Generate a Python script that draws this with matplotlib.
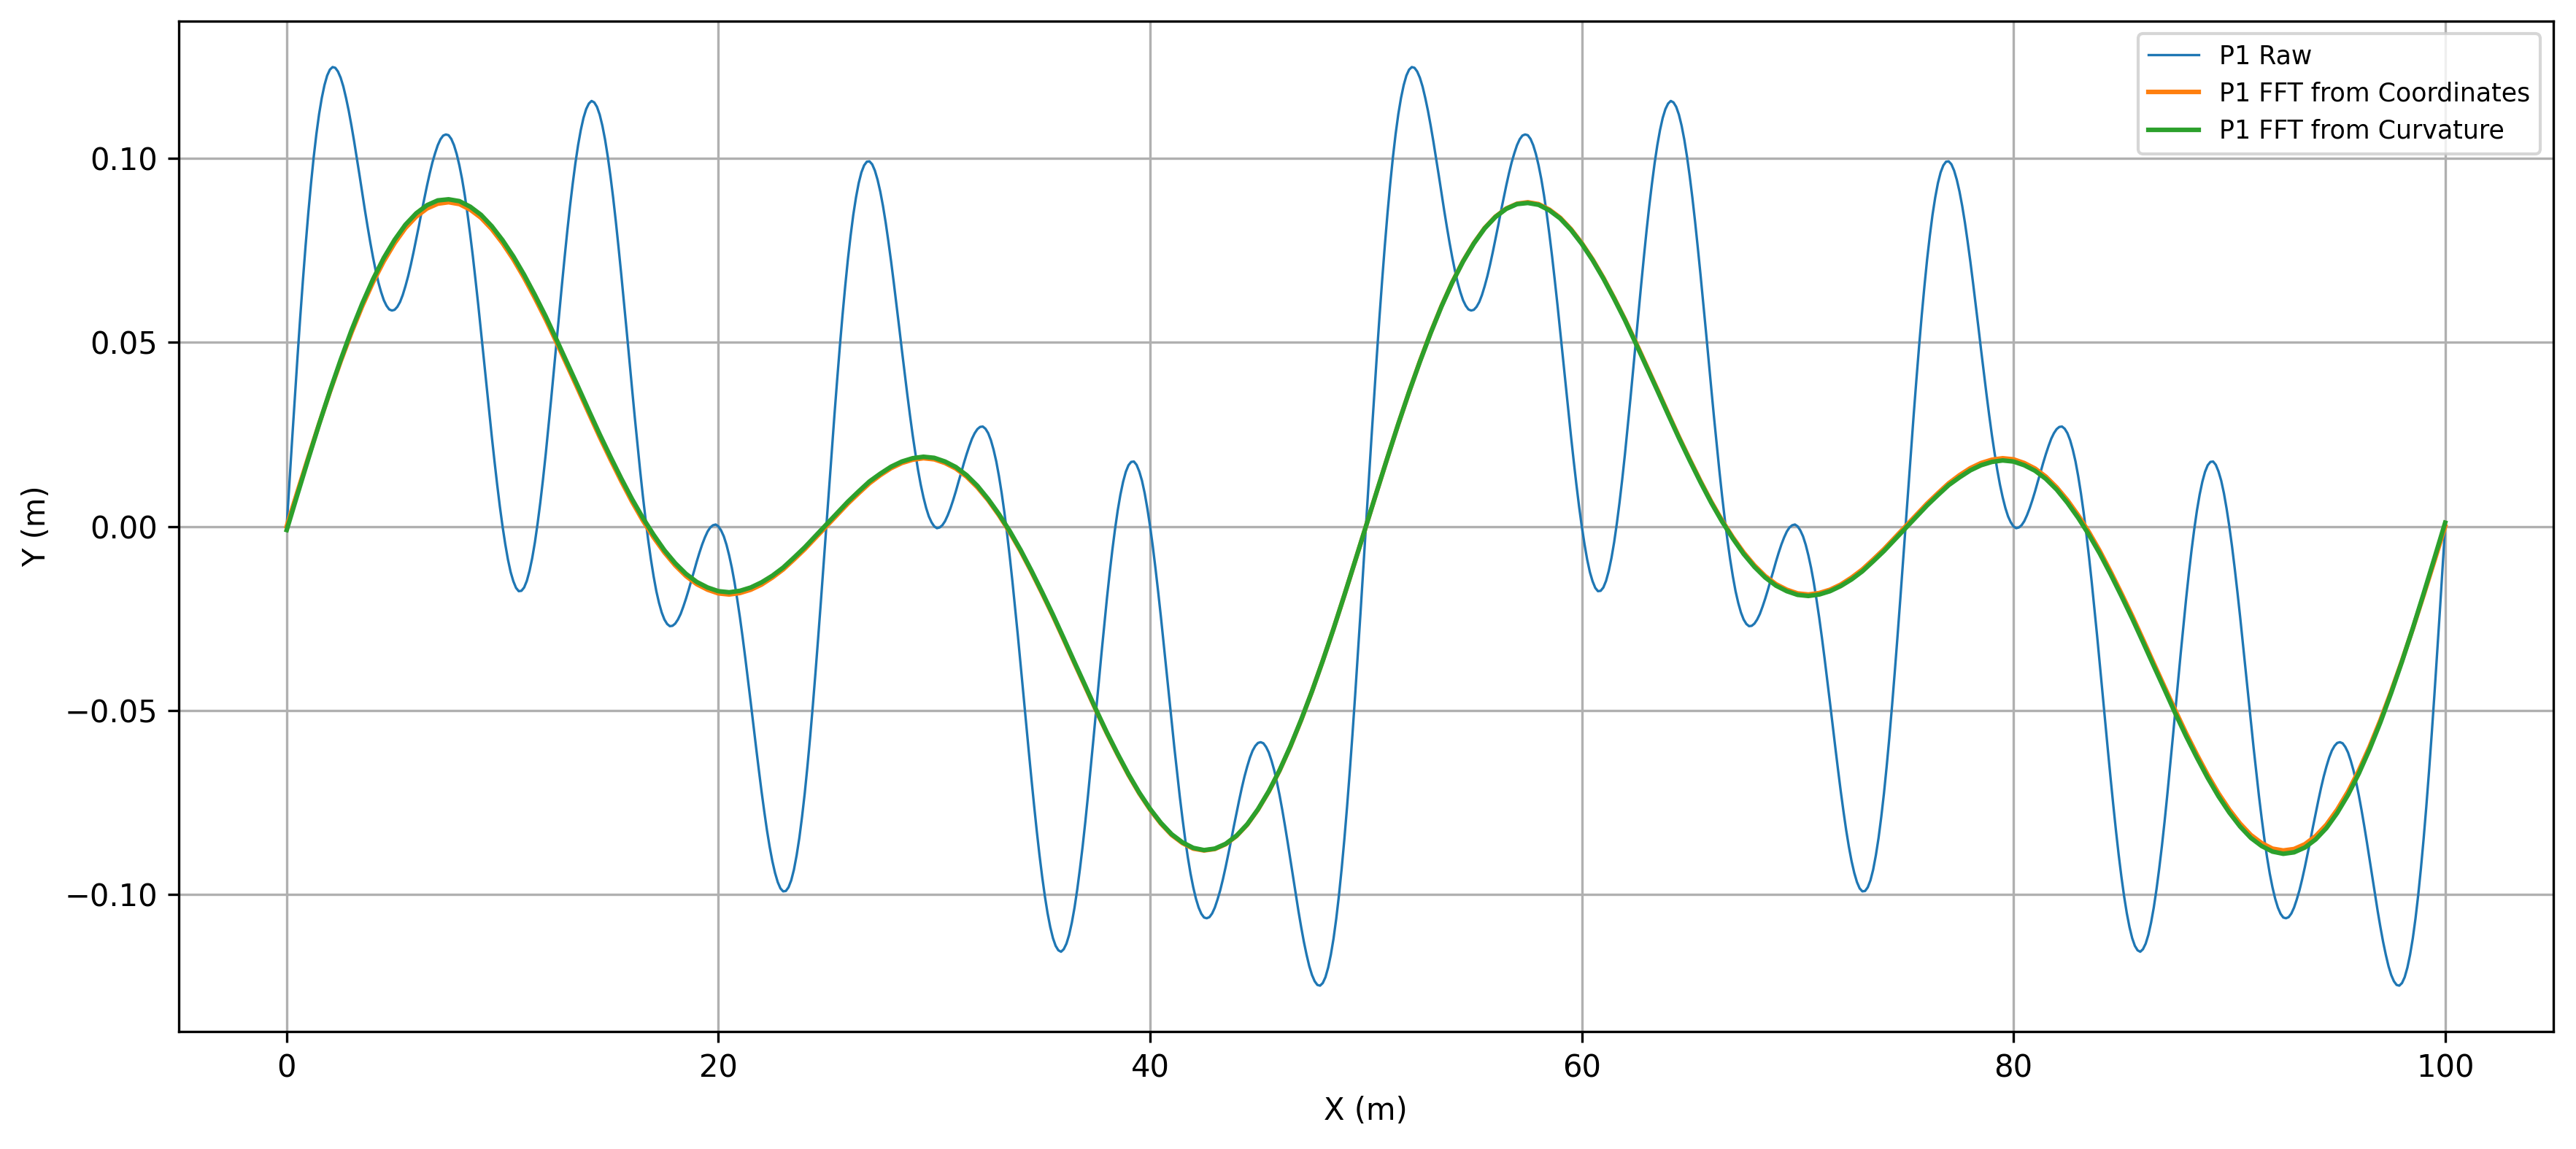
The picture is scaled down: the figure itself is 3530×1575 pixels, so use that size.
import numpy as np
import matplotlib
matplotlib.use("Agg")
import matplotlib.pyplot as plt

# profile P1, sampled along X (m)
RAW_STEP = 0.125
FFT_STEP = 0.5

# raw profile Y (m), one value every 0.125 m from X=0 to X=100
raw_y = [
    0.0, 0.0118, 0.0234, 0.0348, 0.0459, 0.0566, 0.0667, 0.0762, 0.0850, 0.0930,
    0.1002, 0.1065, 0.1119, 0.1163, 0.1198, 0.1224, 0.1240, 0.1247, 0.1245, 0.1235,
    0.1218, 0.1194, 0.1163, 0.1128, 0.1088, 0.1045, 0.0999, 0.0953, 0.0905, 0.0858,
    0.0813, 0.0770, 0.0730, 0.0694, 0.0662, 0.0636, 0.0614, 0.0599, 0.0589, 0.0586,
    0.0588, 0.0596, 0.0609, 0.0628, 0.0652, 0.0679, 0.0710, 0.0744, 0.0780, 0.0816,
    0.0854, 0.0890, 0.0925, 0.0958, 0.0988, 0.1013, 0.1035, 0.1051, 0.1061, 0.1064,
    0.1062, 0.1052, 0.1035, 0.1011, 0.0980, 0.0943, 0.0899, 0.0849, 0.0793, 0.0733,
    0.0668, 0.0601, 0.0531, 0.0459, 0.0387, 0.0315, 0.0245, 0.0178, 0.0114, 0.0054,
    0.0, -0.0048, -0.0090, -0.0124, -0.0149, -0.0167, -0.0176, -0.0175, -0.0166, -0.0148,
    -0.0121, -0.0086, -0.0043, 0.0008, 0.0065, 0.0128, 0.0196, 0.0269, 0.0344, 0.0422,
    0.0500, 0.0578, 0.0655, 0.0730, 0.0802, 0.0869, 0.0930, 0.0986, 0.1035, 0.1076,
    0.1109, 0.1133, 0.1148, 0.1155, 0.1151, 0.1139, 0.1118, 0.1088, 0.1050, 0.1004,
    0.0951, 0.0892, 0.0827, 0.0757, 0.0684, 0.0608, 0.0531, 0.0452, 0.0374, 0.0297,
    0.0223, 0.0151, 0.0083, 0.0020, -0.0038, -0.0090, -0.0136, -0.0176, -0.0208, -0.0234,
    -0.0253, -0.0265, -0.0271, -0.0270, -0.0264, -0.0253, -0.0238, -0.0218, -0.0196, -0.0172,
    -0.0146, -0.0121, -0.0095, -0.0071, -0.0049, -0.0030, -0.0014, -0.0003, 0.0003, 0.0005,
    0.0, -0.0011, -0.0027, -0.0050, -0.0079, -0.0113, -0.0153, -0.0199, -0.0248, -0.0302,
    -0.0359, -0.0419, -0.0479, -0.0541, -0.0602, -0.0662, -0.0720, -0.0774, -0.0825, -0.0870,
    -0.0909, -0.0941, -0.0966, -0.0983, -0.0991, -0.0990, -0.0980, -0.0961, -0.0932, -0.0893,
    -0.0846, -0.0789, -0.0725, -0.0652, -0.0573, -0.0487, -0.0396, -0.0301, -0.0203, -0.0102,
    0.0,
    0.0102, 0.0203, 0.0301, 0.0396, 0.0487, 0.0573, 0.0652, 0.0725, 0.0789, 0.0846,
    0.0893, 0.0932, 0.0961, 0.0980, 0.0990, 0.0991, 0.0983, 0.0966, 0.0941, 0.0909,
    0.0870, 0.0825, 0.0774, 0.0720, 0.0662, 0.0602, 0.0541, 0.0479, 0.0419, 0.0359,
    0.0302, 0.0248, 0.0199, 0.0153, 0.0113, 0.0079, 0.0050, 0.0027, 0.0011, 0.0,
    -0.0005, -0.0003, 0.0003, 0.0014, 0.0030, 0.0049, 0.0071, 0.0095, 0.0121, 0.0146,
    0.0172, 0.0196, 0.0218, 0.0238, 0.0253, 0.0264, 0.0270, 0.0271, 0.0265, 0.0253,
    0.0234, 0.0208, 0.0176, 0.0136, 0.0090, 0.0038, -0.0020, -0.0083, -0.0151, -0.0223,
    -0.0297, -0.0374, -0.0452, -0.0531, -0.0608, -0.0684, -0.0757, -0.0827, -0.0892, -0.0951,
    -0.1004, -0.1050, -0.1088, -0.1118, -0.1139, -0.1151, -0.1155, -0.1148, -0.1133, -0.1109,
    -0.1076, -0.1035, -0.0986, -0.0930, -0.0869, -0.0802, -0.0730, -0.0655, -0.0578, -0.0500,
    -0.0422, -0.0344, -0.0269, -0.0196, -0.0128, -0.0065, -0.0008, 0.0043, 0.0086, 0.0121,
    0.0148, 0.0166, 0.0175, 0.0176, 0.0167, 0.0149, 0.0124, 0.0090, 0.0048, 0.0,
    -0.0054, -0.0114, -0.0178, -0.0245, -0.0315, -0.0387, -0.0459, -0.0531, -0.0601, -0.0668,
    -0.0733, -0.0793, -0.0849, -0.0899, -0.0943, -0.0980, -0.1011, -0.1035, -0.1052, -0.1062,
    -0.1064, -0.1061, -0.1051, -0.1035, -0.1013, -0.0988, -0.0958, -0.0925, -0.0890, -0.0854,
    -0.0816, -0.0780, -0.0744, -0.0710, -0.0679, -0.0652, -0.0628, -0.0609, -0.0596, -0.0588,
    -0.0586, -0.0589, -0.0599, -0.0614, -0.0636, -0.0662, -0.0694, -0.0730, -0.0770, -0.0813,
    -0.0858, -0.0905, -0.0953, -0.0999, -0.1045, -0.1088, -0.1128, -0.1163, -0.1194, -0.1218,
    -0.1235, -0.1245, -0.1247, -0.1240, -0.1224, -0.1198, -0.1163, -0.1119, -0.1065, -0.1002,
    -0.0930, -0.0850, -0.0762, -0.0667, -0.0566, -0.0459, -0.0348, -0.0234, -0.0118, 0.0,
    0.0118, 0.0234, 0.0348, 0.0459, 0.0566, 0.0667, 0.0762, 0.0850, 0.0930,
    0.1002, 0.1065, 0.1119, 0.1163, 0.1198, 0.1224, 0.1240, 0.1247, 0.1245, 0.1235,
    0.1218, 0.1194, 0.1163, 0.1128, 0.1088, 0.1045, 0.0999, 0.0953, 0.0905, 0.0858,
    0.0813, 0.0770, 0.0730, 0.0694, 0.0662, 0.0636, 0.0614, 0.0599, 0.0589, 0.0586,
    0.0588, 0.0596, 0.0609, 0.0628, 0.0652, 0.0679, 0.0710, 0.0744, 0.0780, 0.0816,
    0.0854, 0.0890, 0.0925, 0.0958, 0.0988, 0.1013, 0.1035, 0.1051, 0.1061, 0.1064,
    0.1062, 0.1052, 0.1035, 0.1011, 0.0980, 0.0943, 0.0899, 0.0849, 0.0793, 0.0733,
    0.0668, 0.0601, 0.0531, 0.0459, 0.0387, 0.0315, 0.0245, 0.0178, 0.0114, 0.0054,
    0.0, -0.0048, -0.0090, -0.0124, -0.0149, -0.0167, -0.0176, -0.0175, -0.0166, -0.0148,
    -0.0121, -0.0086, -0.0043, 0.0008, 0.0065, 0.0128, 0.0196, 0.0269, 0.0344, 0.0422,
    0.0500, 0.0578, 0.0655, 0.0730, 0.0802, 0.0869, 0.0930, 0.0986, 0.1035, 0.1076,
    0.1109, 0.1133, 0.1148, 0.1155, 0.1151, 0.1139, 0.1118, 0.1088, 0.1050, 0.1004,
    0.0951, 0.0892, 0.0827, 0.0757, 0.0684, 0.0608, 0.0531, 0.0452, 0.0374, 0.0297,
    0.0223, 0.0151, 0.0083, 0.0020, -0.0038, -0.0090, -0.0136, -0.0176, -0.0208, -0.0234,
    -0.0253, -0.0265, -0.0271, -0.0270, -0.0264, -0.0253, -0.0238, -0.0218, -0.0196, -0.0172,
    -0.0146, -0.0121, -0.0095, -0.0071, -0.0049, -0.0030, -0.0014, -0.0003, 0.0003, 0.0005,
    0.0, -0.0011, -0.0027, -0.0050, -0.0079, -0.0113, -0.0153, -0.0199, -0.0248, -0.0302,
    -0.0359, -0.0419, -0.0479, -0.0541, -0.0602, -0.0662, -0.0720, -0.0774, -0.0825, -0.0870,
    -0.0909, -0.0941, -0.0966, -0.0983, -0.0991, -0.0990, -0.0980, -0.0961, -0.0932, -0.0893,
    -0.0846, -0.0789, -0.0725, -0.0652, -0.0573, -0.0487, -0.0396, -0.0301, -0.0203, -0.0102,
    0.0,
    0.0102, 0.0203, 0.0301, 0.0396, 0.0487, 0.0573, 0.0652, 0.0725, 0.0789, 0.0846,
    0.0893, 0.0932, 0.0961, 0.0980, 0.0990, 0.0991, 0.0983, 0.0966, 0.0941, 0.0909,
    0.0870, 0.0825, 0.0774, 0.0720, 0.0662, 0.0602, 0.0541, 0.0479, 0.0419, 0.0359,
    0.0302, 0.0248, 0.0199, 0.0153, 0.0113, 0.0079, 0.0050, 0.0027, 0.0011, 0.0,
    -0.0005, -0.0003, 0.0003, 0.0014, 0.0030, 0.0049, 0.0071, 0.0095, 0.0121, 0.0146,
    0.0172, 0.0196, 0.0218, 0.0238, 0.0253, 0.0264, 0.0270, 0.0271, 0.0265, 0.0253,
    0.0234, 0.0208, 0.0176, 0.0136, 0.0090, 0.0038, -0.0020, -0.0083, -0.0151, -0.0223,
    -0.0297, -0.0374, -0.0452, -0.0531, -0.0608, -0.0684, -0.0757, -0.0827, -0.0892, -0.0951,
    -0.1004, -0.1050, -0.1088, -0.1118, -0.1139, -0.1151, -0.1155, -0.1148, -0.1133, -0.1109,
    -0.1076, -0.1035, -0.0986, -0.0930, -0.0869, -0.0802, -0.0730, -0.0655, -0.0578, -0.0500,
    -0.0422, -0.0344, -0.0269, -0.0196, -0.0128, -0.0065, -0.0008, 0.0043, 0.0086, 0.0121,
    0.0148, 0.0166, 0.0175, 0.0176, 0.0167, 0.0149, 0.0124, 0.0090, 0.0048, 0.0,
    -0.0054, -0.0114, -0.0178, -0.0245, -0.0315, -0.0387, -0.0459, -0.0531, -0.0601, -0.0668,
    -0.0733, -0.0793, -0.0849, -0.0899, -0.0943, -0.0980, -0.1011, -0.1035, -0.1052, -0.1062,
    -0.1064, -0.1061, -0.1051, -0.1035, -0.1013, -0.0988, -0.0958, -0.0925, -0.0890, -0.0854,
    -0.0816, -0.0780, -0.0744, -0.0710, -0.0679, -0.0652, -0.0628, -0.0609, -0.0596, -0.0588,
    -0.0586, -0.0589, -0.0599, -0.0614, -0.0636, -0.0662, -0.0694, -0.0730, -0.0770, -0.0813,
    -0.0858, -0.0905, -0.0953, -0.0999, -0.1045, -0.1088, -0.1128, -0.1163, -0.1194, -0.1218,
    -0.1235, -0.1245, -0.1247, -0.1240, -0.1224, -0.1198, -0.1163, -0.1119, -0.1065, -0.1002,
    -0.0930, -0.0850, -0.0762, -0.0667, -0.0566, -0.0459, -0.0348, -0.0234, -0.0118, 0.0,
]

# FFT reconstruction from the coordinates, one value every 0.5 m
fft_coord_y = [
    0.0, 0.0094, 0.0187, 0.0278, 0.0365, 0.0448, 0.0526, 0.0598, 0.0663, 0.0720,
    0.0769, 0.0810, 0.0841, 0.0863, 0.0876, 0.0880, 0.0875, 0.0860, 0.0838, 0.0807,
    0.0769, 0.0725, 0.0675, 0.0620, 0.0562, 0.0500, 0.0436, 0.0372, 0.0307, 0.0243,
    0.0182, 0.0123, 0.0067, 0.0016, -0.0030, -0.0071, -0.0106, -0.0135, -0.0157, -0.0172,
    -0.0182, -0.0185, -0.0181, -0.0172, -0.0158, -0.0139, -0.0117, -0.0090, -0.0062, -0.0031,
    0.0, 0.0031, 0.0062, 0.0090, 0.0117, 0.0139, 0.0158, 0.0172, 0.0181, 0.0185,
    0.0182, 0.0172, 0.0157, 0.0135, 0.0106, 0.0071, 0.0030, -0.0016, -0.0067, -0.0123,
    -0.0182, -0.0243, -0.0307, -0.0372, -0.0436, -0.0500, -0.0562, -0.0620, -0.0675, -0.0725,
    -0.0769, -0.0807, -0.0838, -0.0860, -0.0875, -0.0880, -0.0876, -0.0863, -0.0841, -0.0810,
    -0.0769, -0.0720, -0.0663, -0.0598, -0.0526, -0.0448, -0.0365, -0.0278, -0.0187, -0.0094,
    0.0, 0.0094, 0.0187, 0.0278, 0.0365, 0.0448, 0.0526, 0.0598, 0.0663, 0.0720,
    0.0769, 0.0810, 0.0841, 0.0863, 0.0876, 0.0880, 0.0875, 0.0860, 0.0838, 0.0807,
    0.0769, 0.0725, 0.0675, 0.0620, 0.0562, 0.0500, 0.0436, 0.0372, 0.0307, 0.0243,
    0.0182, 0.0123, 0.0067, 0.0016, -0.0030, -0.0071, -0.0106, -0.0135, -0.0157, -0.0172,
    -0.0182, -0.0185, -0.0181, -0.0172, -0.0158, -0.0139, -0.0117, -0.0090, -0.0062, -0.0031,
    0.0, 0.0031, 0.0062, 0.0090, 0.0117, 0.0139, 0.0158, 0.0172, 0.0181, 0.0185,
    0.0182, 0.0172, 0.0157, 0.0135, 0.0106, 0.0071, 0.0030, -0.0016, -0.0067, -0.0123,
    -0.0182, -0.0243, -0.0307, -0.0372, -0.0436, -0.0500, -0.0562, -0.0620, -0.0675, -0.0725,
    -0.0769, -0.0807, -0.0838, -0.0860, -0.0875, -0.0880, -0.0876, -0.0863, -0.0841, -0.0810,
    -0.0769, -0.0720, -0.0663, -0.0598, -0.0526, -0.0448, -0.0365, -0.0278, -0.0187, -0.0094,
    0.0,
]

# FFT reconstruction from the curvature, one value every 0.5 m
fft_curv_y = [
    -0.0010, 0.0087, 0.0183, 0.0277, 0.0367, 0.0452, 0.0532, 0.0605, 0.0671, 0.0729,
    0.0778, 0.0819, 0.0850, 0.0872, 0.0885, 0.0888, 0.0883, 0.0868, 0.0846, 0.0815,
    0.0777, 0.0733, 0.0683, 0.0628, 0.0570, 0.0507, 0.0443, 0.0379, 0.0314, 0.0250,
    0.0189, 0.0130, 0.0074, 0.0023, -0.0023, -0.0065, -0.0100, -0.0129, -0.0151, -0.0166,
    -0.0176, -0.0179, -0.0175, -0.0166, -0.0152, -0.0134, -0.0112, -0.0085, -0.0057, -0.0026,
    0.0005, 0.0036, 0.0067, 0.0095, 0.0122, 0.0143, 0.0162, 0.0176, 0.0185, 0.0189,
    0.0186, 0.0176, 0.0161, 0.0139, 0.0110, 0.0074, 0.0033, -0.0013, -0.0064, -0.0120,
    -0.0179, -0.0240, -0.0304, -0.0369, -0.0433, -0.0498, -0.0560, -0.0618, -0.0673, -0.0723,
    -0.0767, -0.0805, -0.0836, -0.0858, -0.0873, -0.0879, -0.0875, -0.0862, -0.0840, -0.0809,
    -0.0768, -0.0719, -0.0662, -0.0597, -0.0525, -0.0448, -0.0365, -0.0278, -0.0187, -0.0094,
    0.0, 0.0094, 0.0187, 0.0278, 0.0365, 0.0447, 0.0525, 0.0597, 0.0662, 0.0719,
    0.0768, 0.0809, 0.0840, 0.0862, 0.0875, 0.0878, 0.0873, 0.0858, 0.0836, 0.0805,
    0.0767, 0.0723, 0.0673, 0.0618, 0.0560, 0.0497, 0.0433, 0.0369, 0.0304, 0.0240,
    0.0179, 0.0120, 0.0064, 0.0013, -0.0033, -0.0075, -0.0110, -0.0139, -0.0161, -0.0176,
    -0.0186, -0.0189, -0.0185, -0.0176, -0.0162, -0.0144, -0.0122, -0.0095, -0.0067, -0.0036,
    -0.0005, 0.0026, 0.0057, 0.0085, 0.0112, 0.0133, 0.0152, 0.0166, 0.0175, 0.0179,
    0.0176, 0.0166, 0.0151, 0.0129, 0.0100, 0.0064, 0.0023, -0.0023, -0.0074, -0.0130,
    -0.0189, -0.0250, -0.0314, -0.0379, -0.0443, -0.0508, -0.0570, -0.0628, -0.0683, -0.0733,
    -0.0777, -0.0815, -0.0846, -0.0868, -0.0883, -0.0889, -0.0885, -0.0872, -0.0850, -0.0819,
    -0.0778, -0.0729, -0.0671, -0.0605, -0.0532, -0.0452, -0.0367, -0.0277, -0.0183, -0.0087,
    0.0010,
]

raw_x = np.arange(len(raw_y)) * RAW_STEP
fft_x = np.arange(len(fft_coord_y)) * FFT_STEP

fig, ax = plt.subplots(figsize=(11.7667, 5.25), dpi=300)
ax.plot(raw_x, raw_y, color="tab:blue", lw=0.8, label="P1 Raw")
ax.plot(fft_x, fft_coord_y, color="tab:orange", lw=1.5, label="P1 FFT from Coordinates")
ax.plot(fft_x, fft_curv_y, color="tab:green", lw=1.5, label="P1 FFT from Curvature")
ax.set_xlabel("X (m)")
ax.set_ylabel("Y (m)")
ax.grid(True)
ax.legend(loc="upper right", fontsize="small")
fig.subplots_adjust(left=0.0694, right=0.9911, bottom=0.1022, top=0.9816)
fig.savefig("out.png", dpi=300)
